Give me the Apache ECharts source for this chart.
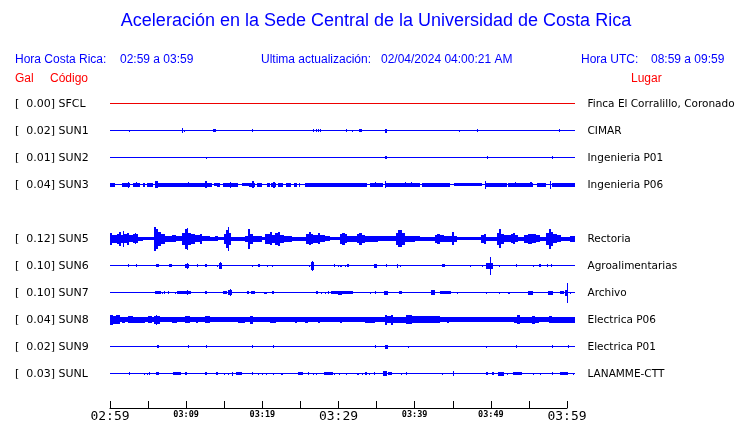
<!DOCTYPE html>
<html><head><meta charset="utf-8">
<script src="https://cdn.jsdelivr.net/npm/echarts@6/dist/echarts.min.js"></script>
<style>html,body{margin:0;padding:0;background:#fff}#c{width:740px;height:423px}</style>
</head><body><div id="c"></div><script>
// ---- data (time in minutes after 02:59, amplitude half-envelope in gal) ----
const codes  = ['SFCL','SUN1','SUN2','SUN3','SUN5','SUN6','SUN7','SUN8','SUN9','SUNL'];
const places = ['Finca El Corralillo, Coronado','CIMAR','Ingenieria P01','Ingenieria P06','Rectoria','Agroalimentarias','Archivo','Electrica P06','Electrica P01','LANAMME-CTT'];
const peaks  = [0.00,0.02,0.01,0.04,0.12,0.10,0.10,0.04,0.02,0.03];
const rowSlots = [0,1,2,3,5,6,7,8,9,10];
const traceStart = 0, traceEnd = 61.05;
const tickMinutes = [0,10,20,30,40,50,60];
const tickLabels  = ['02:59','03:09','03:19','03:29','03:39','03:49','03:59'];
const bigTicks    = ['02:59','03:29','03:59'];

const sfcl = [];
const sun1 = [[2.53,2.66,.01],[8.10,8.23,.007],[9.45,9.6,.025],[9.75,9.88,.01],[13.56,13.87,.015],[18.65,18.8,.015],[26.69,26.82,.015],[27.0,27.13,.015],[27.27,27.4,.015],[27.57,27.7,.015],[30.98,31.11,.015],[31.73,31.86,.01],[32.73,33.04,.015],[36.1,36.33,.02],[45.86,45.99,.01],[48.22,48.35,.015],[58.99,59.12,.015]];
const sun2 = [[12.56,12.69,.01],[36.1,36.33,.015],[49.45,49.58,.015],[53.3,53.43,.007],[58.07,58.2,.015]];
const sun3 = [[0,0.66,.02],[1.6,2.6,.02],[2.3,2.45,.03],[3.0,3.95,.02],[3.35,3.48,.025],[4.3,4.6,.02],[4.85,5.65,.02],[5.9,6.3,.035],[6.3,10.25,.02],[10.2,10.35,.025],[10.35,12.45,.02],[12.45,12.75,.035],[12.75,13.35,.02],[13.6,14.0,.015],[14.0,14.45,.02],[14.9,15.8,.02],[15.75,15.9,.03],[15.9,16.8,.02],[17.3,18.2,.015],[18.2,19.1,.02],[18.7,18.85,.035],[19.3,20.0,.02],[20.55,20.95,.02],[21.2,21.85,.02],[21.45,21.6,.03],[22.0,22.7,.02],[23.1,23.75,.02],[24.2,24.5,.02],[24.75,24.95,.02],[25.6,32.5,.02],[32.6,33.8,.02],[34.1,35.8,.02],[34.75,34.9,.025],[36.05,36.2,.035],[36.3,40.7,.02],[38.7,38.85,.025],[39.5,39.65,.025],[40.9,44.6,.02],[45.1,48.9,.015],[49.2,49.35,.04],[49.4,52.1,.02],[52.2,55.6,.02],[53.15,53.3,.025],[55.2,55.35,.025],[56.0,57.3,.02],[57.75,57.9,.04],[58.0,61.05,.02]];
const sun5 = [[0,0.3,.06],[0.3,0.9,.04],[0.9,1.2,.05],[1.2,1.45,.07],[1.45,1.7,.04],[1.7,1.85,.08],[1.85,2.2,.045],[2.2,2.5,.06],[2.5,3.0,.035],[3.0,3.7,.045],[3.28,3.41,.055],[3.7,4.3,.02],[4.3,5.8,.015],[5.8,6.05,.12],[6.05,6.3,.10],[6.3,6.7,.07],[6.7,7.2,.05],[7.2,8.1,.03],[8.1,8.7,.035],[8.7,9.45,.025],[9.45,9.85,.06],[9.85,10.1,.10],[10.1,10.25,.11],[10.25,10.65,.06],[10.65,11.15,.05],[11.15,11.8,.035],[11.8,12.1,.05],[12.1,13.1,.025],[13.1,13.8,.02],[13.8,14.2,.025],[14.2,15.0,.015],[15.0,15.25,.05],[15.25,15.5,.09],[15.5,15.65,.12],[15.65,15.9,.06],[15.9,17.7,.02],[17.7,18.1,.03],[18.1,18.4,.10],[18.4,18.8,.05],[18.8,20.0,.03],[20.0,20.35,.015],[20.35,21.0,.05],[21.0,21.3,.065],[21.3,21.7,.04],[21.7,22.05,.06],[22.05,22.3,.07],[22.3,22.85,.04],[22.85,23.9,.03],[23.9,25.75,.02],[25.75,26.1,.05],[26.1,26.4,.065],[26.4,26.65,.05],[26.65,27.3,.04],[27.3,27.55,.055],[27.55,28.2,.035],[28.2,28.9,.025],[28.9,30.2,.015],[30.2,30.45,.05],[30.45,30.85,.06],[30.85,31.1,.045],[31.1,32.4,.03],[32.4,32.7,.045],[32.7,33.1,.06],[33.1,33.5,.04],[33.5,35.2,.03],[35.2,37.55,.025],[37.55,37.8,.06],[37.8,38.35,.085],[38.35,38.75,.06],[38.75,40.0,.03],[40.0,40.7,.025],[40.7,42.65,.02],[42.65,42.9,.04],[42.9,43.3,.05],[43.3,43.85,.035],[43.85,44.9,.03],[44.9,45.15,.065],[45.15,45.55,.03],[45.55,48.7,.012],[48.7,49.1,.04],[49.1,49.35,.05],[49.35,50.8,.02],[50.8,51.05,.06],[51.05,51.3,.095],[51.3,51.7,.05],[51.7,52.6,.035],[52.6,52.9,.045],[52.9,53.15,.055],[53.15,53.55,.035],[53.55,54.35,.02],[54.35,54.9,.04],[54.9,55.4,.05],[55.4,55.95,.045],[55.95,56.45,.035],[56.45,57.25,.02],[57.25,57.65,.06],[57.65,57.9,.10],[57.9,58.15,.07],[58.15,58.7,.045],[58.7,59.2,.035],[59.2,60.4,.02],[60.4,61.05,.03]];
const sun6 = [[2.32,2.45,.013],[3.37,3.5,.013],[6.04,6.43,.015],[7.75,8.1,.015],[9.85,10.37,.02],[10.07,10.2,.03],[11.46,11.59,.013],[12.47,12.7,.015],[14.01,14.14,.01],[14.35,14.66,.03],[14.44,14.57,.035],[18.16,18.29,.007],[18.6,18.73,.01],[19.47,19.69,.015],[20.57,20.7,.01],[21.23,21.4,.01],[26.13,26.26,.01],[26.39,26.82,.04],[26.48,26.61,.05],[29.45,29.58,.013],[29.97,30.1,.01],[30.2,30.45,.01],[30.85,30.98,.01],[31.08,31.42,.015],[33.04,33.17,.007],[34.7,35.01,.02],[36.19,36.32,.015],[37.64,37.85,.02],[38.07,38.2,.01],[38.73,38.86,.007],[39.82,39.95,.007],[43.55,43.98,.015],[47.26,47.39,.01],[48.8,48.93,.01],[49.36,50.32,.03],[49.89,50.02,.09],[51.11,51.24,.01],[53.3,53.43,.015],[55.49,55.62,.01],[56.36,56.53,.013],[57.33,57.46,.013],[57.9,58.07,.015]];
const sun7 = [[5.91,6.7,.015],[6.87,7.0,.01],[7.13,7.26,.013],[7.65,7.78,.013],[8.53,8.66,.01],[8.76,10.63,.017],[10.07,10.2,.025],[12.47,12.7,.015],[13.43,13.56,.007],[14.87,15.32,.015],[15.53,15.98,.025],[15.75,15.88,.035],[18.03,18.25,.015],[18.47,19.04,.017],[20.26,20.57,.01],[21.31,21.49,.015],[22.41,22.54,.007],[24.85,24.98,.007],[27.04,27.35,.015],[27.7,27.83,.01],[28.23,28.36,.01],[28.58,28.71,.013],[29.01,29.97,.015],[29.97,30.5,.02],[30.5,31.94,.015],[33.17,33.3,.007],[34.13,34.26,.01],[34.79,34.92,.013],[36.01,36.46,.02],[37.98,38.3,.013],[42.14,42.67,.025],[43.32,44.73,.015],[45.6,45.73,.01],[48.14,48.27,.007],[49.36,49.49,.01],[51.11,51.24,.01],[52.29,52.51,.01],[52.95,53.08,.007],[54.92,55.49,.02],[57.54,58.2,.02],[59.08,59.6,.013],[59.73,60.17,.03],[59.95,60.08,.10],[60.39,60.52,.01]];
const sun8 = [[0,0.4,.05],[0.4,0.8,.04],[0.8,1.3,.045],[1.3,1.6,.027],[1.6,2.0,.03],[2.0,2.35,.027],[2.35,3.0,.035],[3.0,3.55,.03],[3.55,4.05,.03],[4.05,4.6,.03],[4.6,5.0,.027],[5.0,5.5,.035],[5.5,5.8,.027],[5.8,6.05,.04],[6.05,6.2,.05],[6.2,6.55,.04],[6.55,8.15,.027],[8.15,8.8,.03],[8.8,9.85,.027],[9.85,10.5,.035],[10.5,11.3,.027],[11.3,11.55,.03],[11.55,12.45,.027],[12.45,13.1,.035],[13.1,16.8,.027],[16.8,17.7,.03],[17.7,18.4,.027],[18.4,18.8,.04],[18.8,21.0,.027],[21.0,21.8,.03],[21.8,24.3,.027],[24.3,24.55,.03],[24.55,25.6,.027],[25.6,26.0,.03],[26.0,27.3,.027],[27.3,27.55,.03],[27.55,30.2,.027],[30.2,30.45,.03],[30.45,33.5,.027],[33.5,34.8,.03],[34.8,36.1,.027],[36.1,36.4,.05],[36.4,36.9,.035],[36.9,37.2,.05],[37.2,38.9,.03],[38.9,39.6,.045],[39.6,43.3,.033],[43.3,44.25,.027],[44.25,44.5,.03],[44.5,53.1,.027],[53.1,53.4,.03],[53.4,53.8,.045],[53.8,55.4,.03],[55.4,55.8,.04],[55.8,56.3,.03],[56.3,57.6,.027],[57.6,58.0,.035],[58.0,58.7,.03],[58.7,59.35,.03],[59.35,61.05,.03]];
const sun9 = [[6.13,6.43,.015],[10.28,10.41,.013],[12.6,12.73,.015],[17.11,17.24,.007],[18.6,18.73,.013],[21.44,21.57,.015],[30.98,31.11,.007],[34.79,34.92,.015],[36.1,36.46,.02],[39.08,39.21,.01],[39.82,39.95,.007],[49.36,49.49,.01],[53.3,53.43,.013],[58.07,58.2,.015],[60.17,60.3,.013]];
const sunl = [[1.31,1.44,.007],[2.49,2.62,.013],[4.5,4.63,.01],[4.82,4.95,.01],[5.16,5.29,.013],[6.04,6.43,.017],[8.31,9.32,.017],[9.85,10.15,.015],[12.47,12.7,.015],[13.88,14.22,.015],[14.97,15.1,.01],[15.45,15.58,.01],[15.98,16.19,.02],[16.54,17.29,.017],[18.6,18.81,.015],[19.47,19.6,.01],[19.92,20.05,.01],[20.48,20.61,.01],[21.44,21.57,.01],[22.45,22.75,.01],[24.72,25.38,.017],[25.96,26.13,.015],[26.69,26.82,.01],[27.0,27.13,.01],[28.1,29.32,.017],[29.45,29.58,.01],[30.1,30.23,.01],[30.98,31.11,.01],[31.51,31.64,.007],[32.47,32.73,.01],[33.12,33.25,.01],[33.48,33.7,.013],[34.04,34.17,.01],[34.7,34.83,.015],[35.88,36.33,.025],[36.54,36.98,.015],[38.2,38.33,.01],[38.86,38.99,.013],[41.49,41.62,.007],[43.55,43.68,.01],[45.07,45.2,.025],[46.38,46.51,.007],[49.36,49.66,.015],[50.11,50.41,.015],[50.98,51.77,.02],[52.08,52.21,.01],[52.85,54.04,.017],[55.49,55.62,.01],[56.45,56.58,.01],[57.98,58.11,.013],[59.08,60.17,.015],[60.82,60.95,.01]];
const segments = [sfcl,sun1,sun2,sun3,sun5,sun6,sun7,sun8,sun9,sunl];

// ---- layout / style ----
const SLOT = 0.27;
const BLUE = '#0000ff', RED = '#ee0000';
const lineColor = i => i === 0 ? RED : BLUE;

const segData = [];
segments.forEach((arr, i) => arr.forEach(s => segData.push([i, s[0], s[1], s[2]])));
const rowData = codes.map((c, i) => [i, traceStart, traceEnd]);

function baseY(api, i) {
  return Math.floor(api.coord([0, -SLOT * rowSlots[i]])[1]) + 0.5;
}
function renderRow(params, api) {
  const i = api.value(0);
  const y = baseY(api, i);
  const x0 = Math.round(api.coord([api.value(1), 0])[0]);
  const x1 = Math.round(api.coord([api.value(2), 0])[0]);
  const font = '11px "DejaVu Sans"';
  return {
    type: 'group',
    children: [
      { type: 'line', shape: { x1: x0, y1: y, x2: x1, y2: y }, style: { stroke: lineColor(i), lineWidth: 1 } },
      { type: 'text', style: { text: '[', x: 15, y: y + 0.5, textVerticalAlign: 'middle', font: font, fill: '#000' } },
      { type: 'text', style: { text: peaks[i].toFixed(2) + ']', x: 55, y: y + 0.5, textAlign: 'right', textVerticalAlign: 'middle', font: font, fill: '#000' } },
      { type: 'text', style: { text: codes[i], x: 58.5, y: y + 0.5, textVerticalAlign: 'middle', font: font, fill: '#000' } },
      { type: 'text', style: { text: places[i], x: 587.5, y: y + 0.5, textVerticalAlign: 'middle', font: '10.5px "DejaVu Sans"', fill: '#000' } }
    ]
  };
}
function renderSeg(params, api) {
  const i = api.value(0);
  const y = baseY(api, i);
  const a = api.value(3);
  const h = Math.abs(api.coord([0, 0])[1] - api.coord([0, a])[1]);
  const xa = Math.round(api.coord([api.value(1), 0])[0]);
  const xb = Math.max(xa + 1, Math.round(api.coord([api.value(2), 0])[0]));
  const top = Math.round(y - h), bot = Math.round(y + h);
  return { type: 'rect', shape: { x: xa, y: top, width: xb - xa, height: Math.max(1, bot - top) }, style: { fill: lineColor(i) } };
}

const chart = echarts.init(document.getElementById('c'), null, { renderer: 'canvas' });
const hdr = (text, x, y, color, size, align) => ({
  type: 'text', x: x, y: y,
  style: { text: text, fill: color, font: size + 'px "Liberation Sans"', textAlign: align || 'left', textVerticalAlign: 'middle' }
});
chart.setOption({
  animation: false,
  backgroundColor: '#fff',
  grid: [
    { left: 110, width: 465, top: 76, height: 324 },
    { left: 110, width: 457, top: 300, height: 108 }
  ],
  xAxis: [
    { gridIndex: 0, type: 'value', min: traceStart, max: traceEnd, show: false },
    { gridIndex: 1, type: 'value', min: 0, max: 60, interval: 5,
      axisLine: { show: true, lineStyle: { color: '#000', width: 1 } },
      axisTick: { show: true, inside: true, length: 7, lineStyle: { color: '#000', width: 1 } },
      splitLine: { show: false },
      axisLabel: {
        margin: 1, interval: 0, hideOverlap: false,
        formatter: v => { const k = tickMinutes.indexOf(v); if (k < 0) return ''; const t = tickLabels[k]; return bigTicks.includes(t) ? '{b|' + t + '}' : '{s|' + t + '}'; },
        rich: {
          b: { fontFamily: 'DejaVu Sans Mono', fontSize: 13, color: '#000', lineHeight: 15 },
          s: { fontFamily: 'DejaVu Sans Mono', fontSize: 8.5, fontWeight: 'bold', color: '#000', lineHeight: 11 }
        }
      }
    }
  ],
  yAxis: [
    { gridIndex: 0, type: 'value', min: -SLOT * 11, max: SLOT, show: false },
    { gridIndex: 1, type: 'value', min: 0, max: 1, show: false }
  ],
  series: [
    { type: 'custom', xAxisIndex: 0, yAxisIndex: 0, renderItem: renderRow, data: rowData, clip: false, silent: true },
    { type: 'custom', xAxisIndex: 0, yAxisIndex: 0, renderItem: renderSeg, data: segData, clip: false, silent: true }
  ],
  graphic: [
    hdr('Aceleración en la Sede Central de la Universidad de Costa Rica', 376, 21, BLUE, 18, 'center'),
    hdr('Hora Costa Rica:', 15, 60, BLUE, 12),
    hdr('02:59 a 03:59', 120, 60, BLUE, 12),
    hdr('Ultima actualización:', 261, 60, BLUE, 12),
    hdr('02/04/2024 04:00:21 AM', 381, 60, BLUE, 12),
    hdr('Hora UTC:', 581, 60, BLUE, 12),
    hdr('08:59 a 09:59', 651, 60, BLUE, 12),
    hdr('Gal', 15, 79, '#ff0000', 12),
    hdr('Código', 50, 79, '#ff0000', 12),
    hdr('Lugar', 631, 79, '#ff0000', 12)
  ]
});
</script></body></html>
